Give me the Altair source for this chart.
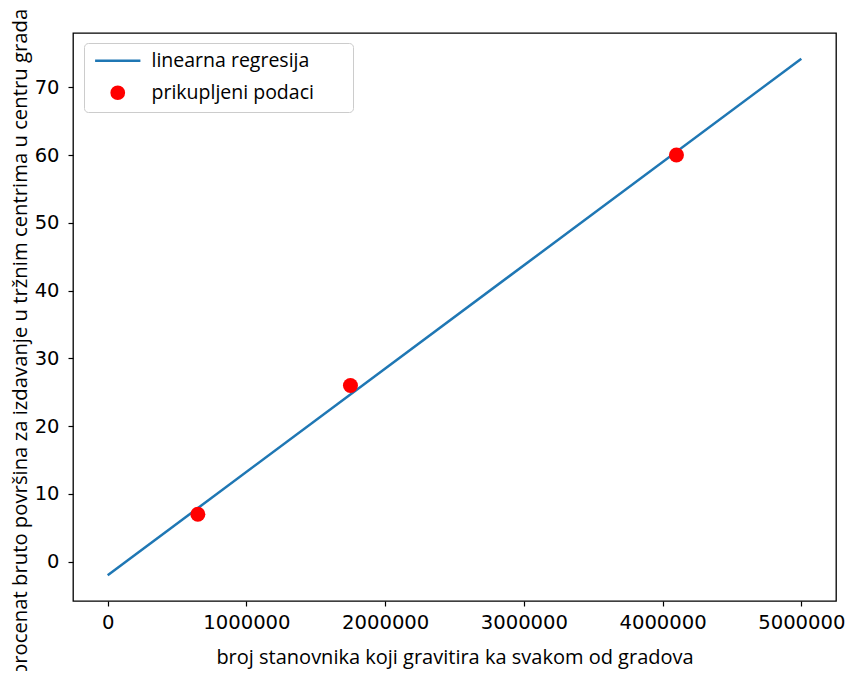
import altair as alt
import pandas as pd

# data
line_x = [0, 5000000]
line_y = [-2.0, 74.2]
pts_x = [650000, 1750000, 4100000]
pts_y = [7, 26, 60]
series = ["linearna regresija", "prikupljeni podaci"]
x_ticks = [0, 1000000, 2000000, 3000000, 4000000, 5000000]
y_ticks = [0, 10, 20, 30, 40, 50, 60, 70]

line_df = pd.DataFrame({"x": line_x, "y": line_y, "s": series[0]})
pts_df = pd.DataFrame({"x": pts_x, "y": pts_y, "s": series[1]})

TFONT = "Open Sans"
LFONT = "DejaVu Sans"

xs = alt.Scale(domain=[-250000, 5250000], nice=False, zero=False)
ys = alt.Scale(domain=[-5.8, 78.0], nice=False, zero=False)

xax = alt.Axis(values=x_ticks, format="d", title="broj stanovnika koji gravitira ka svakom od gradova",
               grid=False, domain=False, tickColor="black", tickSize=5, tickWidth=1.2,
               labelFont=LFONT, labelFontSize=19.6, labelColor="black", labelPadding=7,
               titleFont=TFONT, titleFontSize=20, titleFontWeight="normal", titleColor="black",
               titlePadding=16)
yax = alt.Axis(values=y_ticks, title="procenat bruto površina za izdavanje u tržnim centrima u centru grada",
               grid=False, domain=False, tickColor="black", tickSize=5, tickWidth=1.2,
               labelFont=LFONT, labelFontSize=19.5, labelColor="black", labelPadding=9,
               titleFont=TFONT, titleFontSize=20.3, titleFontWeight="normal", titleColor="black",
               titleX=-53, titleY=309, titleBaseline="middle", titleAngle=-90)

leg = alt.Legend(title=None, orient="none", legendX=11, legendY=10,
                 labelFont=TFONT, labelFontSize=19.5, labelColor="black", labelLimit=500,
                 labelExpr="datum.label + '\u00a0\u00a0\u00a0\u00a0\u00a0\u00a0\u200b'",
                 symbolOffset=16, labelOffset=24,
                 padding=8, cornerRadius=4, strokeColor="#cccccc", fillColor="white",
                 symbolStrokeWidth=2.5, symbolSize=150, rowPadding=10)

cscale = alt.Scale(domain=series, range=["#1f77b4", "red"])

line = alt.Chart(line_df).mark_line(strokeWidth=2.5).encode(
    x=alt.X("x:Q", scale=xs, axis=xax),
    y=alt.Y("y:Q", scale=ys, axis=yax),
    color=alt.Color("s:N", scale=cscale, legend=leg),
)

pts = alt.Chart(pts_df).mark_point(filled=True, opacity=1, strokeWidth=0, size=225).encode(
    x=alt.X("x:Q", scale=xs, axis=xax),
    y=alt.Y("y:Q", scale=ys, axis=yax),
    color=alt.Color("s:N", scale=cscale, legend=leg),
    stroke=alt.Stroke("s:N", scale=cscale, legend=leg),
    shape=alt.Shape("s:N", scale=alt.Scale(domain=series, range=["M-3.7,0L3.7,0", "circle"]), legend=leg),
)

chart = alt.layer(line, pts).properties(
    width=763, height=568,
    autosize=alt.AutoSizeParams(type="none"),
    padding={"left": 65, "top": 25, "right": 9, "bottom": 70},
).configure(background="white").configure_view(stroke="black", strokeWidth=1.3)

chart.save("out.html", embed_options={"renderer": "svg", "actions": False})
